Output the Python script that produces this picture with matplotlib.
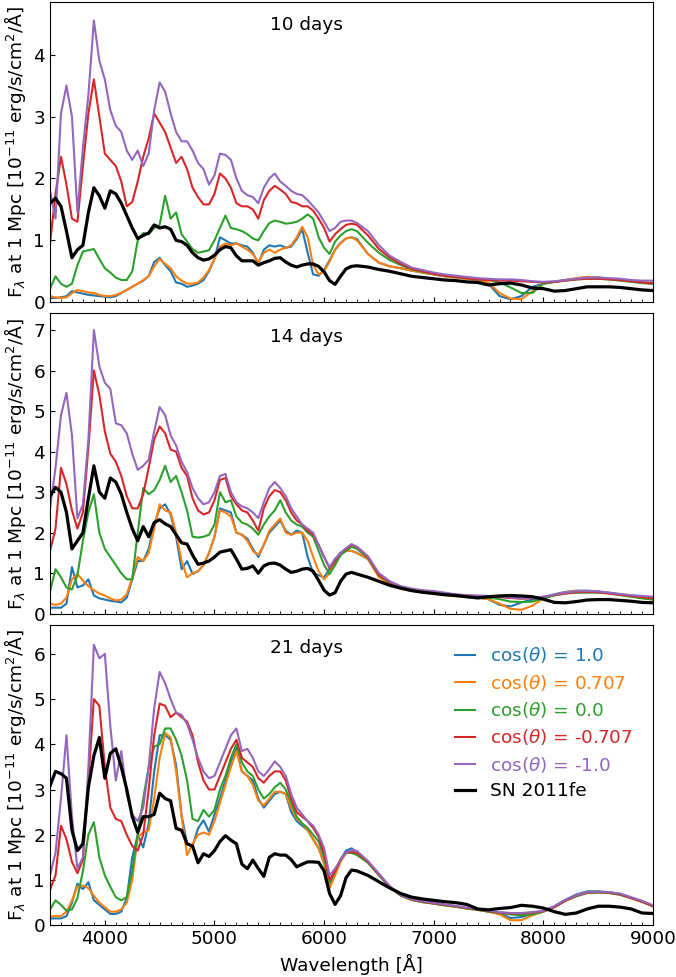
import numpy as np
import matplotlib
matplotlib.use("Agg")
import matplotlib.pyplot as plt
from matplotlib.ticker import MultipleLocator

# wavelength samples (A): 50 A steps in the blue, 100 A steps in the red
wl = np.concatenate([np.arange(3500, 6301, 50), np.arange(6400, 9001, 100)])

days = ["10 days", "14 days", "21 days"]
labels = ["cos($\\theta$) = 1.0", "cos($\\theta$) = 0.707", "cos($\\theta$) = 0.0",
          "cos($\\theta$) = -0.707", "cos($\\theta$) = -1.0", "SN 2011fe"]
ymax = [4.85, 7.41, 6.64]

# ---- 10 days ----
blue_10 = [0.07, 0.07, 0.08, 0.10, 0.18, 0.16, 0.14, 0.12, 0.11, 0.10,
           0.09, 0.08, 0.10, 0.15, 0.20, 0.25, 0.30, 0.35, 0.42, 0.65,
           0.72, 0.60, 0.50, 0.32, 0.30, 0.25, 0.27, 0.30, 0.36, 0.50,
           0.70, 1.05, 1.00, 0.95, 0.95, 0.92, 0.90, 0.80, 0.62, 0.85,
           0.92, 0.90, 0.92, 0.88, 0.90, 1.02, 1.18, 0.80, 0.45, 0.43,
           0.52, 0.68, 0.85, 0.96, 1.03, 1.05, 1.02,
           0.78, 0.64, 0.58, 0.55, 0.51, 0.48, 0.45, 0.42, 0.40, 0.38,
           0.36, 0.30, 0.10, 0.05, 0.10, 0.25, 0.30, 0.33, 0.36, 0.38,
           0.41, 0.40, 0.38, 0.36, 0.35, 0.32, 0.30]
orange_10 = [0.10, 0.08, 0.07, 0.08, 0.15, 0.20, 0.18, 0.16, 0.15, 0.12,
             0.10, 0.10, 0.12, 0.15, 0.20, 0.25, 0.30, 0.36, 0.42, 0.58,
             0.70, 0.62, 0.55, 0.42, 0.35, 0.30, 0.30, 0.32, 0.40, 0.52,
             0.70, 0.90, 0.95, 0.92, 0.95, 0.90, 0.85, 0.78, 0.65, 0.80,
             0.85, 0.80, 0.85, 0.88, 0.92, 1.05, 1.22, 1.05, 0.60, 0.45,
             0.50, 0.66, 0.85, 0.95, 1.03, 1.05, 1.00,
             0.78, 0.64, 0.58, 0.55, 0.51, 0.48, 0.45, 0.42, 0.40, 0.38,
             0.36, 0.32, 0.15, 0.06, 0.05, 0.18, 0.30, 0.33, 0.36, 0.39,
             0.41, 0.40, 0.38, 0.36, 0.35, 0.32, 0.30]
green_10 = [0.22, 0.42, 0.30, 0.25, 0.30, 0.60, 0.82, 0.84, 0.86, 0.70,
            0.55, 0.48, 0.40, 0.36, 0.36, 0.50, 1.00, 1.12, 1.10, 1.20,
            1.25, 1.72, 1.35, 1.45, 1.10, 0.98, 0.86, 0.80, 0.82, 0.84,
            1.00, 1.20, 1.40, 1.20, 1.18, 1.15, 1.10, 1.03, 1.00, 1.15,
            1.28, 1.32, 1.30, 1.27, 1.28, 1.30, 1.35, 1.42, 1.35, 1.05,
            0.88, 0.78, 0.98, 1.08, 1.15, 1.18, 1.15,
            0.96, 0.80, 0.68, 0.60, 0.53, 0.49, 0.46, 0.43, 0.41, 0.39,
            0.37, 0.36, 0.32, 0.24, 0.15, 0.15, 0.30, 0.33, 0.35, 0.37,
            0.38, 0.38, 0.37, 0.35, 0.33, 0.31, 0.30]
red_10 = [0.95, 1.75, 2.35, 1.90, 1.35, 1.30, 2.20, 3.05, 3.60, 3.00,
          2.40, 2.30, 2.20, 1.95, 1.55, 1.62, 1.95, 2.35, 2.65, 3.05,
          2.90, 2.75, 2.50, 2.25, 2.35, 2.15, 1.85, 1.70, 1.58, 1.58,
          1.75, 2.08, 2.00, 1.85, 1.60, 1.55, 1.55, 1.50, 1.35, 1.65,
          1.80, 1.88, 1.82, 1.75, 1.62, 1.60, 1.55, 1.55, 1.48, 1.35,
          1.20, 0.98, 1.10, 1.18, 1.25, 1.27, 1.25,
          1.08, 0.86, 0.72, 0.62, 0.54, 0.50, 0.46, 0.43, 0.41, 0.39,
          0.37, 0.36, 0.35, 0.35, 0.34, 0.33, 0.32, 0.33, 0.35, 0.37,
          0.38, 0.38, 0.37, 0.36, 0.34, 0.32, 0.31]
purple_10 = [1.80, 1.35, 3.05, 3.50, 3.00, 1.45, 2.50, 3.35, 4.55, 3.90,
             3.60, 3.10, 2.85, 2.75, 2.45, 2.30, 2.45, 2.20, 2.40, 3.10,
             3.55, 3.40, 3.05, 2.75, 2.60, 2.60, 2.45, 2.25, 2.15, 1.90,
             2.05, 2.40, 2.38, 2.30, 2.00, 1.80, 1.73, 1.70, 1.60, 1.85,
             2.00, 2.08, 1.95, 1.88, 1.80, 1.75, 1.73, 1.65, 1.55, 1.45,
             1.30, 1.15, 1.20, 1.30, 1.32, 1.32, 1.28,
             1.15, 0.92, 0.75, 0.65, 0.56, 0.52, 0.48, 0.45, 0.43, 0.41,
             0.39, 0.38, 0.37, 0.37, 0.36, 0.34, 0.33, 0.34, 0.36, 0.38,
             0.40, 0.40, 0.39, 0.38, 0.36, 0.35, 0.35]
sn_10 = [1.60, 1.68, 1.55, 1.15, 0.72, 0.85, 0.92, 1.45, 1.85, 1.72,
         1.52, 1.80, 1.75, 1.60, 1.40, 1.20, 1.03, 1.08, 1.12, 1.25,
         1.20, 1.22, 1.18, 1.00, 0.98, 0.92, 0.80, 0.72, 0.68, 0.70,
         0.76, 0.85, 0.90, 0.88, 0.75, 0.67, 0.67, 0.67, 0.60, 0.64,
         0.67, 0.71, 0.72, 0.65, 0.60, 0.57, 0.60, 0.62, 0.62, 0.58,
         0.49, 0.35, 0.29, 0.42, 0.54, 0.58, 0.59,
         0.57, 0.53, 0.50, 0.46, 0.42, 0.40, 0.38, 0.36, 0.35, 0.33,
         0.32, 0.28, 0.30, 0.31, 0.28, 0.23, 0.22, 0.18, 0.19, 0.22,
         0.25, 0.25, 0.25, 0.24, 0.22, 0.20, 0.19]

# ---- 14 days ----
blue_14 = [0.15, 0.15, 0.15, 0.25, 1.15, 0.65, 0.70, 0.85, 0.45, 0.38,
           0.35, 0.32, 0.30, 0.28, 0.40, 0.85, 1.30, 1.30, 1.60, 2.20,
           2.60, 2.70, 2.45, 1.90, 1.10, 1.30, 0.98, 1.05, 1.20, 1.50,
           1.90, 2.60, 2.55, 2.50, 2.00, 1.95, 1.85, 1.60, 1.40, 1.70,
           2.00, 2.15, 2.30, 2.05, 1.95, 2.05, 2.00, 1.40, 1.00, 0.95,
           0.90, 1.10, 1.35, 1.50, 1.55, 1.55, 1.50,
           1.35, 0.92, 0.74, 0.63, 0.57, 0.54, 0.51, 0.47, 0.44, 0.42,
           0.40, 0.36, 0.22, 0.18, 0.28, 0.35, 0.40, 0.48, 0.54, 0.57,
           0.57, 0.55, 0.52, 0.48, 0.44, 0.40, 0.36]
orange_14 = [0.25, 0.22, 0.25, 0.40, 0.85, 0.98, 0.82, 0.68, 0.58, 0.50,
             0.45, 0.38, 0.33, 0.35, 0.48, 0.90, 1.40, 1.30, 1.50, 2.10,
             2.70, 2.55, 2.50, 2.00, 1.30, 0.90, 1.00, 1.05, 1.20, 1.50,
             1.90, 2.55, 2.50, 2.40, 2.00, 1.95, 1.80, 1.55, 1.45, 1.70,
             2.05, 2.20, 2.35, 2.00, 1.95, 2.00, 2.00, 1.80, 1.40, 1.05,
             0.85, 1.00, 1.30, 1.50, 1.55, 1.55, 1.50,
             1.35, 0.90, 0.72, 0.62, 0.56, 0.53, 0.50, 0.46, 0.43, 0.41,
             0.40, 0.36, 0.25, 0.12, 0.10, 0.20, 0.38, 0.47, 0.53, 0.56,
             0.56, 0.54, 0.51, 0.47, 0.43, 0.39, 0.35]
green_14 = [0.55, 1.10, 0.90, 0.65, 0.60, 0.95, 1.80, 2.50, 2.95, 2.00,
            1.60, 1.40, 1.20, 1.00, 0.85, 0.85, 2.00, 3.10, 2.95, 3.05,
            3.30, 3.65, 3.25, 3.40, 3.00, 2.55, 1.90, 1.88, 1.90, 1.95,
            2.20, 3.00, 2.75, 2.80, 2.40, 2.25, 2.20, 2.10, 1.95, 2.20,
            2.40, 2.55, 2.80, 2.50, 2.30, 2.20, 2.15, 2.00, 1.90, 1.55,
            1.20, 0.98, 1.20, 1.45, 1.55, 1.65, 1.60,
            1.38, 0.95, 0.76, 0.64, 0.58, 0.55, 0.52, 0.48, 0.45, 0.43,
            0.42, 0.40, 0.36, 0.30, 0.29, 0.30, 0.38, 0.45, 0.50, 0.52,
            0.52, 0.52, 0.50, 0.46, 0.42, 0.38, 0.35]
red_14 = [1.55, 2.10, 3.60, 3.20, 2.55, 2.10, 2.50, 4.10, 6.00, 5.40,
          4.50, 3.95, 3.75, 3.40, 2.90, 2.60, 2.60, 2.95, 3.60, 4.30,
          4.62, 4.45, 4.05, 4.00, 3.60, 3.40, 2.85, 2.55, 2.45, 2.50,
          2.80, 3.30, 3.35, 2.90, 2.70, 2.55, 2.50, 2.30, 2.05, 2.60,
          2.90, 3.05, 3.00, 2.80, 2.50, 2.30, 2.20, 2.05, 1.95, 1.70,
          1.40, 1.12, 1.30, 1.50, 1.60, 1.70, 1.65,
          1.40, 0.96, 0.78, 0.66, 0.60, 0.57, 0.55, 0.50, 0.47, 0.45,
          0.44, 0.43, 0.41, 0.39, 0.37, 0.38, 0.42, 0.46, 0.50, 0.53,
          0.54, 0.53, 0.50, 0.47, 0.44, 0.41, 0.38]
purple_14 = [2.60, 3.60, 4.90, 5.45, 4.40, 2.35, 2.70, 4.30, 7.00, 6.10,
             5.70, 5.55, 4.70, 4.65, 4.45, 3.95, 3.55, 3.65, 3.80, 4.50,
             5.10, 4.90, 4.40, 4.15, 3.75, 3.50, 3.10, 2.85, 2.70, 2.75,
             3.00, 3.40, 3.45, 3.00, 2.75, 2.65, 2.60, 2.50, 2.36, 2.75,
             3.10, 3.25, 3.10, 2.90, 2.60, 2.40, 2.20, 2.10, 2.00, 1.70,
             1.40, 1.15, 1.35, 1.50, 1.62, 1.72, 1.65,
             1.42, 1.00, 0.80, 0.68, 0.62, 0.58, 0.56, 0.52, 0.48, 0.46,
             0.45, 0.44, 0.42, 0.40, 0.38, 0.39, 0.42, 0.47, 0.52, 0.55,
             0.56, 0.55, 0.52, 0.49, 0.46, 0.44, 0.42]
sn_14 = [2.90, 3.12, 3.00, 2.50, 1.60, 1.80, 2.00, 2.85, 3.65, 3.00,
         2.85, 3.35, 3.25, 2.95, 2.50, 2.10, 1.80, 2.15, 1.90, 2.25,
         2.32, 2.22, 2.15, 1.95, 1.75, 1.72, 1.45, 1.22, 1.25, 1.30,
         1.40, 1.52, 1.55, 1.58, 1.35, 1.10, 1.12, 1.18, 1.00, 1.18,
         1.24, 1.25, 1.20, 1.10, 1.02, 1.05, 1.10, 1.12, 1.05, 0.82,
         0.58, 0.46, 0.52, 0.80, 0.98, 1.02, 0.98,
         0.90, 0.80, 0.70, 0.63, 0.57, 0.53, 0.50, 0.47, 0.45, 0.42,
         0.39, 0.42, 0.44, 0.45, 0.44, 0.42, 0.36, 0.28, 0.27, 0.30,
         0.34, 0.35, 0.35, 0.33, 0.31, 0.28, 0.27]

# ---- 21 days ----
blue_21 = [0.15, 0.15, 0.15, 0.20, 0.50, 0.92, 0.80, 0.95, 0.55, 0.45,
           0.35, 0.25, 0.25, 0.30, 0.60, 1.50, 2.00, 1.72, 2.25, 3.40,
           4.20, 4.20, 4.10, 3.54, 2.43, 1.80, 1.75, 2.14, 2.32, 2.07,
           2.45, 2.80, 3.20, 3.60, 3.90, 3.40, 3.30, 3.20, 2.80, 2.60,
           2.75, 2.90, 2.95, 2.90, 2.50, 2.30, 2.20, 2.10, 1.90, 1.70,
           1.40, 0.90, 1.15, 1.45, 1.65, 1.70, 1.62,
           1.40, 1.12, 0.85, 0.66, 0.56, 0.51, 0.48, 0.44, 0.41, 0.37,
           0.34, 0.30, 0.26, 0.16, 0.18, 0.25, 0.32, 0.42, 0.56, 0.68,
           0.75, 0.75, 0.73, 0.69, 0.61, 0.52, 0.42]
orange_21 = [0.20, 0.20, 0.20, 0.30, 0.55, 0.85, 0.88, 0.82, 0.65, 0.50,
             0.40, 0.30, 0.30, 0.35, 0.50, 1.00, 1.95, 2.05, 2.10, 2.80,
             3.70, 4.25, 4.15, 3.40, 2.40, 1.55, 1.80, 2.00, 2.05, 2.00,
             2.30, 2.70, 3.10, 3.50, 3.85, 3.40, 3.30, 3.10, 2.75, 2.65,
             2.80, 2.95, 2.95, 2.90, 2.60, 2.35, 2.25, 2.10, 1.90, 1.70,
             1.35, 0.82, 1.10, 1.40, 1.60, 1.62, 1.60,
             1.40, 1.12, 0.85, 0.66, 0.56, 0.51, 0.48, 0.44, 0.41, 0.37,
             0.34, 0.30, 0.24, 0.11, 0.11, 0.22, 0.30, 0.40, 0.55, 0.66,
             0.73, 0.74, 0.72, 0.68, 0.60, 0.52, 0.42]
green_21 = [0.35, 0.55, 0.45, 0.32, 0.35, 0.60, 1.20, 2.00, 2.28, 1.50,
            1.10, 0.85, 0.62, 0.55, 0.62, 1.20, 2.00, 2.80, 3.50, 3.95,
            4.00, 4.35, 4.35, 4.10, 3.75, 3.20, 2.35, 2.30, 2.55, 2.40,
            2.55, 3.00, 3.30, 3.70, 4.00, 3.60, 3.40, 3.30, 3.00, 2.80,
            2.90, 3.05, 3.15, 3.00, 2.70, 2.40, 2.25, 2.15, 2.00, 1.85,
            1.50, 0.95, 1.20, 1.45, 1.60, 1.60, 1.55,
            1.38, 1.10, 0.84, 0.65, 0.56, 0.51, 0.48, 0.44, 0.41, 0.37,
            0.34, 0.30, 0.27, 0.24, 0.22, 0.24, 0.30, 0.40, 0.54, 0.64,
            0.71, 0.72, 0.71, 0.67, 0.60, 0.52, 0.42]
red_21 = [0.78, 1.10, 2.20, 1.90, 1.40, 1.15, 1.45, 3.20, 5.00, 4.85,
          3.50, 2.60, 2.35, 2.30, 2.00, 1.75, 1.65, 2.00, 3.00, 4.20,
          4.90, 4.85, 4.60, 4.70, 4.60, 4.50, 4.20, 3.60, 3.20, 3.00,
          3.00, 3.30, 3.60, 3.90, 4.10, 3.70, 3.60, 3.50, 3.25, 3.15,
          3.30, 3.40, 3.40, 3.20, 2.80, 2.50, 2.40, 2.30, 2.15, 1.95,
          1.60, 1.00, 1.20, 1.45, 1.60, 1.62, 1.60,
          1.40, 1.12, 0.85, 0.66, 0.57, 0.52, 0.49, 0.45, 0.42, 0.38,
          0.35, 0.31, 0.28, 0.26, 0.26, 0.28, 0.31, 0.40, 0.54, 0.65,
          0.72, 0.73, 0.72, 0.68, 0.60, 0.52, 0.42]
purple_21 = [1.10, 1.60, 2.80, 4.20, 2.40, 1.25, 1.50, 3.50, 6.20, 5.90,
             6.00, 4.40, 3.20, 3.85, 2.90, 2.45, 2.30, 2.60, 3.50, 4.80,
             5.60, 5.35, 5.00, 4.70, 4.65, 4.45, 4.10, 3.70, 3.40, 3.25,
             3.30, 3.60, 3.90, 4.20, 4.35, 3.85, 3.90, 3.70, 3.40, 3.30,
             3.45, 3.62, 3.50, 3.30, 2.90, 2.60, 2.45, 2.30, 2.20, 2.00,
             1.70, 1.10, 1.25, 1.45, 1.60, 1.66, 1.64,
             1.42, 1.14, 0.86, 0.67, 0.58, 0.53, 0.50, 0.46, 0.43, 0.39,
             0.36, 0.32, 0.29, 0.27, 0.27, 0.29, 0.32, 0.42, 0.56, 0.66,
             0.73, 0.74, 0.73, 0.70, 0.62, 0.54, 0.44]
sn_21 = [3.08, 3.40, 3.35, 3.25, 2.10, 1.65, 1.80, 3.05, 3.75, 4.15,
         3.25, 3.80, 3.90, 3.50, 3.00, 2.40, 2.05, 2.40, 2.40, 2.45,
         2.92, 2.80, 2.75, 2.14, 2.10, 1.80, 1.75, 1.38, 1.58, 1.52,
         1.65, 1.85, 1.98, 1.88, 1.80, 1.35, 1.25, 1.44, 1.25, 1.08,
         1.50, 1.58, 1.55, 1.55, 1.45, 1.29, 1.35, 1.40, 1.40, 1.39,
         1.20, 0.70, 0.46, 0.65, 1.05, 1.22, 1.20,
         1.10, 0.96, 0.82, 0.70, 0.62, 0.58, 0.55, 0.52, 0.50, 0.46,
         0.36, 0.34, 0.37, 0.39, 0.44, 0.42, 0.38, 0.30, 0.24, 0.27,
         0.36, 0.42, 0.42, 0.40, 0.36, 0.27, 0.26]

panels = [
    [blue_10, orange_10, green_10, red_10, purple_10, sn_10],
    [blue_14, orange_14, green_14, red_14, purple_14, sn_14],
    [blue_21, orange_21, green_21, red_21, purple_21, sn_21],
]
colors = ["C0", "C1", "C2", "C3", "C4", "k"]

plt.rcParams["font.size"] = 13.3

fig, axes = plt.subplots(3, 1, figsize=(6.76, 9.77), dpi=100, sharex=True)
fig.subplots_adjust(left=0.074, right=0.966, top=0.998, bottom=0.053, hspace=0.037)

for i, ax in enumerate(axes):
    for j, flux in enumerate(panels[i]):
        if colors[j] == "k":
            ax.plot(wl, flux, color="k", lw=2.3, label=labels[j])
        else:
            ax.plot(wl, flux, color=colors[j], lw=1.5, label=labels[j])
    ax.set_xlim(3500, 9000)
    ax.set_ylim(0, ymax[i])
    ax.text(0.426, 0.923, days[i], transform=ax.transAxes,
            ha="center", va="center")
    ax.set_ylabel("F$_\\lambda$ at 1 Mpc [10$^{-11}$ erg/s/cm$^2$/Å]")
    ax.xaxis.set_minor_locator(MultipleLocator(100))
    ax.tick_params(which="both", direction="in")

axes[2].set_xlabel("Wavelength [Å]")
axes[2].legend(loc="upper right", frameon=False, labelcolor="linecolor",
               handlelength=1.1, handletextpad=0.8, labelspacing=0.4,
               borderaxespad=0.7)

fig.savefig("out.png", dpi=100)
